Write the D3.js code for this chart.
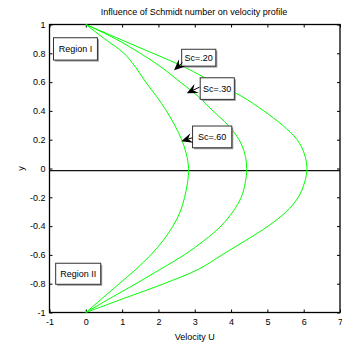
<!DOCTYPE html>
<html>
<head>
<meta charset="utf-8">
<script src="https://cdn.jsdelivr.net/npm/d3@7"></script>
<style>
  body { margin: 0; background: #fff; }
  text { font-family: "Liberation Sans", Arial, sans-serif; fill: #000; }
</style>
</head>
<body>
<script>
// chart size, same as the picture
var width = 342,
    height = 345;

var yPoints = [1, 0.9, 0.8, 0.7, 0.6, 0.5, 0.4, 0.3, 0.2, 0.1, 0,
               -0.1, -0.2, -0.3, -0.4, -0.5, -0.6, -0.7, -0.8, -0.9, -1];

// velocity U for each Schmidt number
var uSc20 = [0, 0.92, 1.85, 2.75, 3.5, 4.3, 4.9, 5.42, 5.82, 6.02, 6.09,
             6.02, 5.85, 5.52, 5.02, 4.4, 3.75, 3.1, 2.15, 1.07, 0];
var uSc30 = [0, 0.82, 1.5, 2.1, 2.6, 3.1, 3.5, 3.92, 4.22, 4.38, 4.43,
             4.39, 4.28, 4.05, 3.72, 3.26, 2.71, 2.05, 1.38, 0.68, 0];
var uSc60 = [0, 0.52, 1.05, 1.38, 1.65, 1.95, 2.22, 2.45, 2.64, 2.77, 2.83,
             2.8, 2.72, 2.6, 2.4, 2.13, 1.79, 1.38, 0.92, 0.46, 0];

// tick values
var xTicks = [-1, 0, 1, 2, 3, 4, 5, 6, 7];
var xTickLabels = ["-1", "0", "1", "2", "3", "4", "5", "6", "7"];
var yTicks = [-1, -0.8, -0.6, -0.4, -0.2, 0, 0.2, 0.4, 0.6, 0.8, 1];
var yTickLabels = ["-1", "-0.8", "-0.6", "-0.4", "-0.2", "0", "0.2", "0.4", "0.6", "0.8", "1"];

// the black line dividing the two regions
var dividerY = -0.015;

// labels with arrows: box corners and arrow tail/tip in data units
var scLabels = ["Sc=.20", "Sc=.30", "Sc=.60"];
var scBoxes = [[2.64, 0.828, 3.58, 0.711], [3.15, 0.63, 4.09, 0.48], [2.94, 0.295, 4.02, 0.144]];
var scArrows = [[2.66, 0.735, 2.43, 0.682], [3.13, 0.565, 2.78, 0.522], [2.93, 0.213, 2.63, 0.19]];

var regionLabels = ["Region I", "Region II"];
var regionBoxes = [[-0.89, 0.908, 0.32, 0.753], [-0.83, -0.658, 0.41, -0.804]];

var x = d3.scaleLinear().domain([-1, 7]).range([49.5, 340]);
var y = d3.scaleLinear().domain([-1, 1]).range([312.5, 24.5]);

var svg = d3.select("body")
    .append("svg")
    .attr("width", width)
    .attr("height", height);

// title
svg.append("text")
    .attr("x", 194)
    .attr("y", 15)
    .attr("text-anchor", "middle")
    .style("font-size", "9px")
    .text("Influence of Schmidt number on velocity profile");

// axes, ticks pointing inwards like matlab
svg.append("g")
    .attr("transform", "translate(0," + y(-1) + ")")
    .call(d3.axisBottom(x).tickValues(xTicks)
        .tickFormat(function(d, i) { return xTickLabels[i]; })
        .tickSizeInner(-3).tickSizeOuter(0).tickPadding(6))
    .call(function(g) { g.select(".domain").remove(); });

svg.append("g")
    .attr("transform", "translate(0," + y(1) + ")")
    .call(d3.axisTop(x).tickValues(xTicks).tickFormat("")
        .tickSizeInner(-3).tickSizeOuter(0))
    .call(function(g) { g.select(".domain").remove(); });

svg.append("g")
    .attr("transform", "translate(" + x(-1) + ",0)")
    .call(d3.axisLeft(y).tickValues(yTicks)
        .tickFormat(function(d, i) { return yTickLabels[i]; })
        .tickSizeInner(-3).tickSizeOuter(0).tickPadding(4))
    .call(function(g) { g.select(".domain").remove(); });

svg.append("g")
    .attr("transform", "translate(" + x(7) + ",0)")
    .call(d3.axisRight(y).tickValues(yTicks).tickFormat("")
        .tickSizeInner(-3).tickSizeOuter(0))
    .call(function(g) { g.select(".domain").remove(); });

svg.selectAll(".tick text").style("font-size", "9px").style("font-family", "Liberation Sans, Arial, sans-serif");
svg.selectAll(".tick line").attr("stroke", "#000");

// axis frame
svg.append("rect")
    .attr("x", x(-1))
    .attr("y", y(1))
    .attr("width", x(7) - x(-1))
    .attr("height", y(-1) - y(1))
    .attr("fill", "none")
    .attr("stroke", "#000")
    .attr("stroke-width", 1.3);

// axis labels
svg.append("text")
    .attr("x", (x(-1) + x(7)) / 2)
    .attr("y", 340)
    .attr("text-anchor", "middle")
    .style("font-size", "9px")
    .text("Velocity U");

svg.append("text")
    .attr("transform", "translate(24," + y(0) + ") rotate(-90)")
    .attr("text-anchor", "middle")
    .style("font-size", "9px")
    .text("y");

// divider
svg.append("line")
    .attr("x1", x(-1)).attr("x2", x(7))
    .attr("y1", y(dividerY)).attr("y2", y(dividerY))
    .attr("stroke", "#111")
    .attr("stroke-width", 1.2);

// the profiles
var line = d3.line()
    .x(function(d) { return x(d[0]); })
    .y(function(d) { return y(d[1]); })
    .curve(d3.curveCatmullRom);

[uSc20, uSc30, uSc60].forEach(function(u) {
    svg.append("path")
        .datum(u.map(function(v, i) { return [v, yPoints[i]]; }))
        .attr("d", line)
        .attr("fill", "none")
        .attr("stroke", "#00ff00")
        .attr("stroke-width", 1);
});

// text boxes with a little shadow
function textBox(b, label) {
    var x0 = x(b[0]), x1 = x(b[2]), y0 = y(b[1]), y1 = y(b[3]);
    svg.append("rect")
        .attr("x", x0 + 1.5).attr("y", y0 + 1.5)
        .attr("width", x1 - x0).attr("height", y1 - y0)
        .attr("fill", "#999");
    svg.append("rect")
        .attr("x", x0).attr("y", y0)
        .attr("width", x1 - x0).attr("height", y1 - y0)
        .attr("fill", "#fff")
        .attr("stroke", "#333")
        .attr("stroke-width", 1);
    svg.append("text")
        .attr("x", (x0 + x1) / 2)
        .attr("y", (y0 + y1) / 2 + 3.2)
        .attr("text-anchor", "middle")
        .style("font-size", "9px")
        .text(label);
}

regionBoxes.forEach(function(b, i) { textBox(b, regionLabels[i]); });
scBoxes.forEach(function(b, i) { textBox(b, scLabels[i]); });

// arrows (matlab vback2 style heads)
scArrows.forEach(function(a) {
    var tx = x(a[0]), ty = y(a[1]), hx = x(a[2]), hy = y(a[3]);
    var ang = Math.atan2(hy - ty, hx - tx);
    var len = 11, half = 5, notch = 7;
    var c = Math.cos(ang), s = Math.sin(ang);
    var bx = hx - len * c, by = hy - len * s;
    var nx = hx - notch * c, ny = hy - notch * s;
    svg.append("line")
        .attr("x1", tx).attr("y1", ty).attr("x2", nx).attr("y2", ny)
        .attr("stroke", "#000").attr("stroke-width", 1);
    svg.append("path")
        .attr("d", "M" + hx + "," + hy +
            "L" + (bx - half * s) + "," + (by + half * c) +
            "L" + nx + "," + ny +
            "L" + (bx + half * s) + "," + (by - half * c) + "Z")
        .attr("fill", "#000");
});
</script>
</body>
</html>
